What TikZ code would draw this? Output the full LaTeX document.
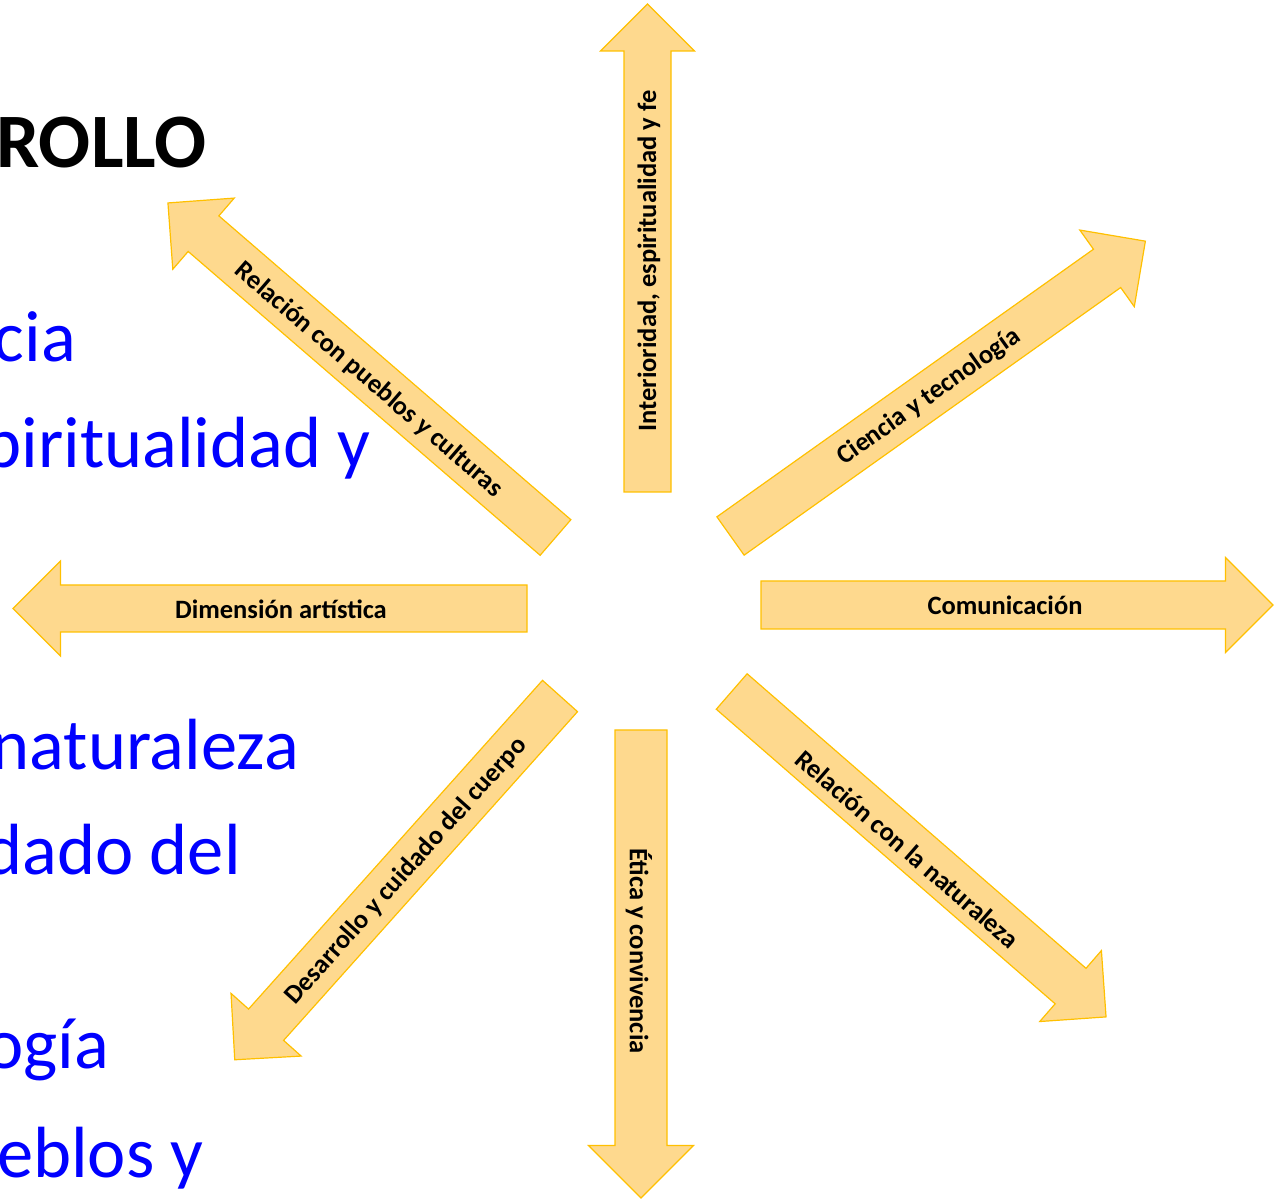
\documentclass[tikz,border=0pt]{standalone}
\usepackage{fontspec}
\setmainfont{Carlito}
\definecolor{arrowfill}{RGB}{254,217,142}
\definecolor{arrowline}{RGB}{255,192,0}
\definecolor{listblue}{RGB}{0,0,255}
\tikzset{
  arrowbody/.style={fill=arrowfill, draw=arrowline, line width=1.2pt, line join=miter},
  arrowlabel/.style={font=\fontsize{26.5}{30}\selectfont\bfseries, text=black, inner sep=0pt},
  listtext/.style={font=\fontsize{72.5}{80}\selectfont, text=listblue, inner sep=0pt, anchor=base east},
  titletext/.style={font=\fontsize{77}{80}\selectfont\bfseries, text=black, inner sep=0pt, anchor=base east},
}
% #1 tail centre, #2 angle, #3 length, #4 half shaft width, #5 half head width (= head length)
\newcommand\ArrowShape[5]{%
  \begin{scope}[shift={#1}, rotate=#2]
    \draw[arrowbody] (0,-#4) -- ({#3-#5},-#4) -- ({#3-#5},-#5) -- (#3,0)
      -- ({#3-#5},#5) -- ({#3-#5},#4) -- (0,#4) -- cycle;
  \end{scope}}
\begin{document}
\begin{tikzpicture}[x=1pt,y=1pt]
\useasboundingbox (0,0) rectangle (1274,1200);
\clip (0,0) rectangle (1274,1200);

% partly visible slide text
\node[titletext] (title) at (207,1032) {ROLLO};
\node[listtext] (l1) at (76,838) {cia};
\node[listtext] (l2) at (371,732) {piritualidad y};
\node[listtext] (l3) at (299,430) {naturaleza};
\node[listtext] (l4) at (241,325) {dado del};
\node[listtext] (l5) at (109,132) {ogía};
\node[listtext] (l6) at (204,23) {eblos y};

% arrows
\ArrowShape{(647.5,708)}{90}{488}{23.5}{47}
\ArrowShape{(641,470)}{-90}{468}{26}{52.5}
\ArrowShape{(761,595)}{0}{512}{24}{47.5}
\ArrowShape{(527,591.5)}{180}{514}{23.5}{47.5}
\ArrowShape{(555.5,662.5)}{139.2}{512}{23.5}{47}
\ArrowShape{(730.5,664)}{35.4}{509}{23.5}{47}
\ArrowShape{(731.7,508.5)}{-41.0}{496}{23.5}{47}
\ArrowShape{(560,504)}{-131.8}{488}{23.5}{47}

% labels
\node[arrowlabel, rotate=90] (a1) at (649,939) {Interioridad, espiritualidad y fe};
\node[arrowlabel, rotate=-90] (a2) at (639,249) {Ética y convivencia};
\node[arrowlabel] (a3) at (1005,595) {Comunicación};
\node[arrowlabel] (a4) at (281,591) {Dimensión artística};
\node[arrowlabel, rotate=-40.8] (a5) at (369,820) {Relación con pueblos y culturas};
\node[arrowlabel, rotate=35.4] (a6) at (929,803) {Ciencia y tecnología};
\node[arrowlabel, rotate=-41.0] (a7) at (907.5,351) {Relación con la naturaleza};
\node[arrowlabel, rotate=48.2] (a8) at (406,329) {Desarrollo y cuidado del cuerpo};
\end{tikzpicture}
\end{document}
